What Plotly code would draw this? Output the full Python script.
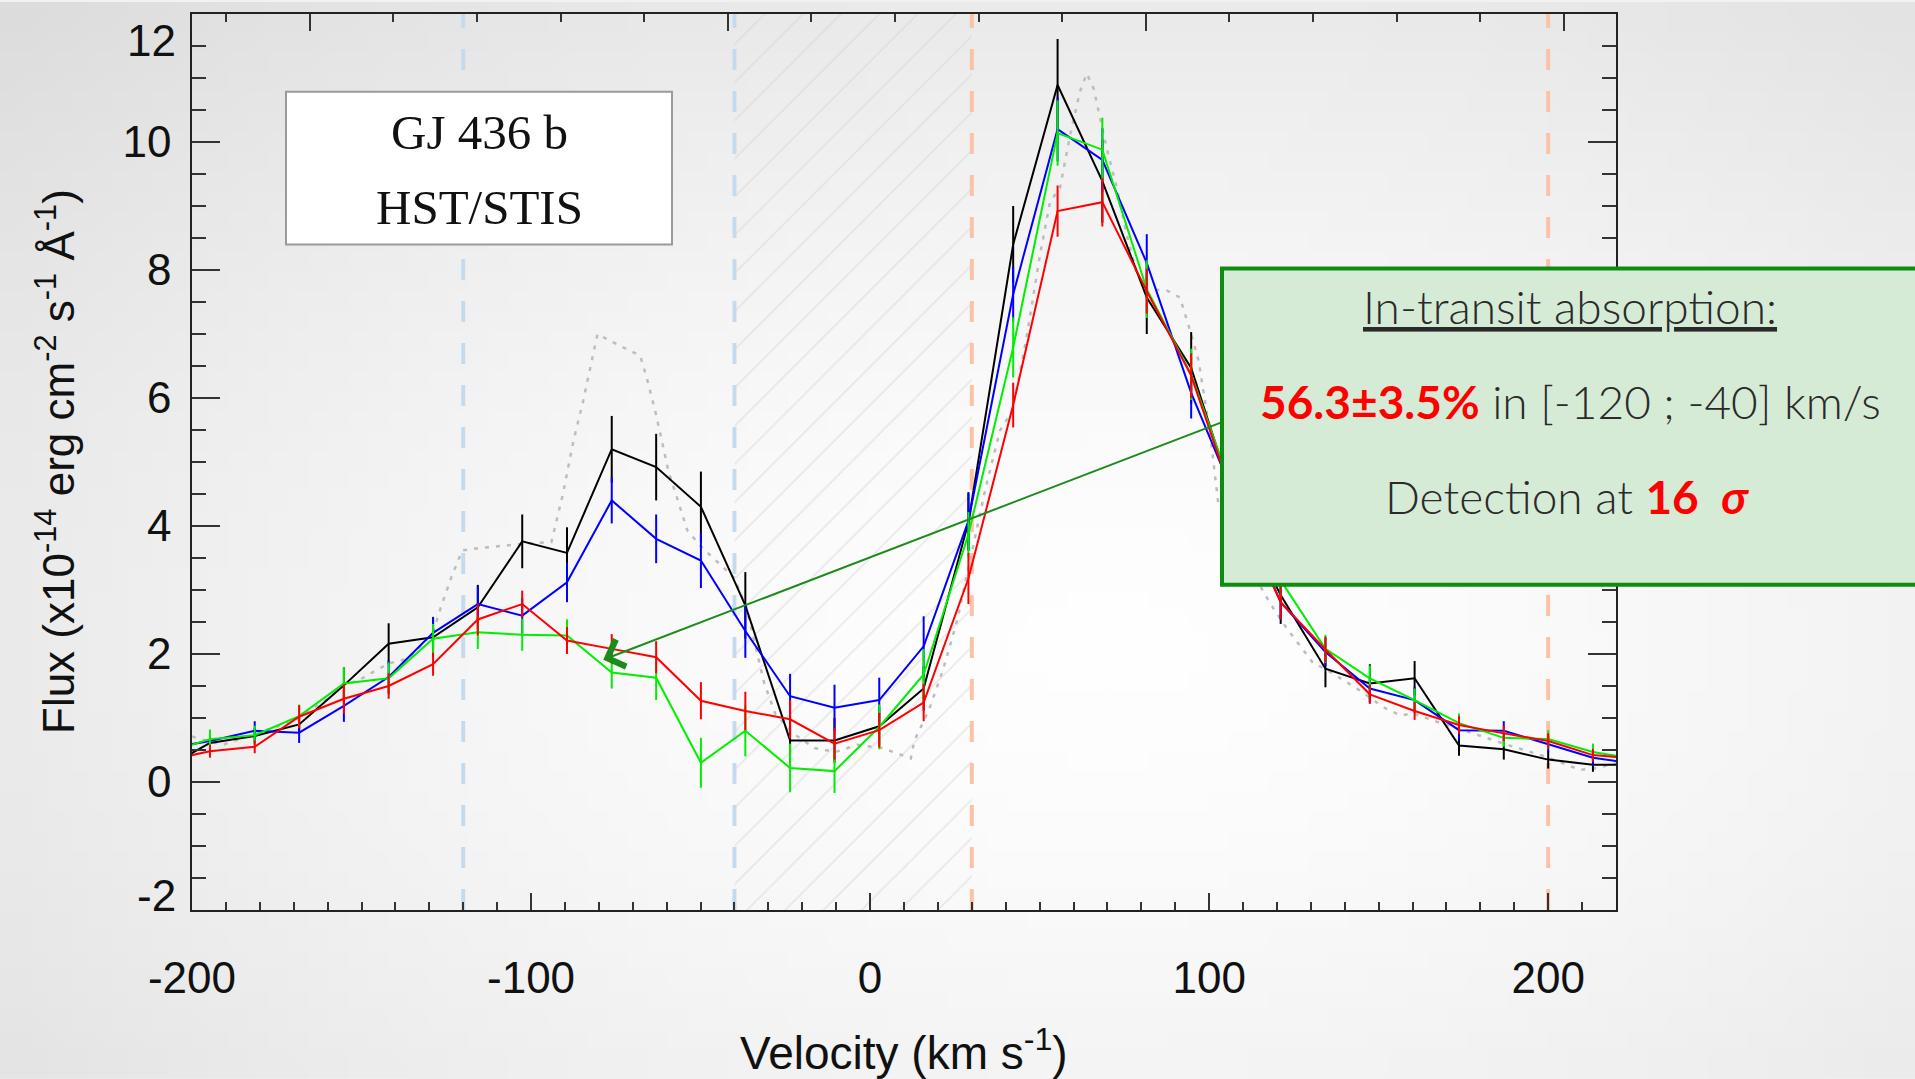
import base64
import math
import struct
import zlib

import plotly.graph_objects as go

# ---------------------------------------------------------------------------
# Lyman-alpha line profile of GJ 436 observed with HST/STIS
# ---------------------------------------------------------------------------
VELOCITY = [-207.9, -194.7, -181.5, -168.4, -155.2, -142.0, -128.9, -115.7,
            -102.6, -89.4, -76.2, -63.1, -49.9, -36.8, -23.6, -10.5, 2.7,
            15.8, 29.0, 42.2, 55.3, 68.5, 81.6, 94.7, 107.9, 121.1, 134.3,
            147.4, 160.6, 173.7, 186.9, 200.0, 213.2, 226.4]

FLUX_BLACK = [0.22, 0.61, 0.72, 0.90, 1.51, 2.16, 2.26, 2.73, 3.76, 3.58,
              5.20, 4.92, 4.30, 2.76, 0.65, 0.65, 0.87, 1.46, 4.06, 8.40,
              10.89, 9.39, 7.57, 6.47, 4.30, 2.92, 1.77, 1.54, 1.62, 0.57,
              0.51, 0.35, 0.27, 0.27]
ERR_BLACK = [0.10, 0.12, 0.12, 0.13, 0.28, 0.32, 0.30, 0.35, 0.42, 0.40,
             0.52, 0.52, 0.55, 0.52, 0.35, 0.35, 0.30, 0.35, 0.45, 0.60,
             0.72, 0.65, 0.57, 0.56, 0.50, 0.45, 0.29, 0.30, 0.27, 0.16,
             0.16, 0.14, 0.11, 0.11]

FLUX_BLUE = [0.52, 0.64, 0.80, 0.77, 1.19, 1.64, 2.33, 2.78, 2.60, 3.12,
             4.40, 3.80, 3.46, 2.36, 1.34, 1.16, 1.28, 2.12, 4.08, 7.62,
             10.20, 9.72, 8.11, 6.08, 4.40, 2.81, 2.03, 1.46, 1.28, 0.81,
             0.80, 0.59, 0.38, 0.28]
ERR_BLUE = [0.10, 0.10, 0.15, 0.16, 0.25, 0.26, 0.25, 0.27, 0.28, 0.31,
            0.36, 0.38, 0.43, 0.42, 0.35, 0.36, 0.35, 0.47, 0.45, 0.43,
            0.50, 0.50, 0.45, 0.40, 0.35, 0.27, 0.22, 0.20, 0.20, 0.15,
            0.15, 0.13, 0.12, 0.12]

FLUX_GREEN = [0.45, 0.67, 0.73, 1.03, 1.54, 1.62, 2.24, 2.34, 2.30, 2.29,
              1.71, 1.63, 0.30, 0.80, 0.22, 0.17, 0.86, 1.68, 3.87, 6.79,
              10.14, 9.88, 7.70, 6.37, 4.40, 3.15, 2.08, 1.62, 1.28, 0.92,
              0.69, 0.67, 0.47, 0.35]
ERR_GREEN = [0.15, 0.15, 0.15, 0.18, 0.25, 0.25, 0.23, 0.26, 0.25, 0.25,
             0.25, 0.35, 0.39, 0.40, 0.38, 0.34, 0.35, 0.40, 0.35, 0.47,
             0.51, 0.50, 0.45, 0.40, 0.35, 0.30, 0.22, 0.20, 0.18, 0.15,
             0.14, 0.14, 0.13, 0.13]

FLUX_RED = [0.33, 0.48, 0.55, 1.02, 1.30, 1.50, 1.84, 2.54, 2.78, 2.21,
            2.08, 1.95, 1.27, 1.11, 0.98, 0.60, 0.81, 1.24, 3.18, 5.89,
            8.92, 9.06, 7.67, 6.35, 4.30, 2.81, 2.07, 1.37, 1.11, 0.89,
            0.76, 0.64, 0.42, 0.36]
ERR_RED = [0.10, 0.10, 0.10, 0.18, 0.23, 0.20, 0.18, 0.25, 0.21, 0.21,
           0.23, 0.25, 0.29, 0.30, 0.30, 0.25, 0.27, 0.29, 0.40, 0.35,
           0.40, 0.38, 0.35, 0.35, 0.30, 0.27, 0.20, 0.15, 0.14, 0.14,
           0.12, 0.12, 0.10, 0.10]

# intrinsic profile (dotted)
MODEL_V = [-200.0, -191.0, -182.5, -170.0, -160.0, -155.3, -150.9, -142.1,
           -136.1, -129.0, -126.6, -123.5, -120.3, -116.1, -102.6, -94.0,
           -90.6, -87.5, -84.6, -82.1, -80.4, -76.2, -71.8, -67.8, -65.9,
           -63.4, -61.4, -59.5, -57.0, -53.9, -49.7, -43.4, -40.2, -36.5,
           -33.3, -31.2, -28.0, -22.7, -16.4, -10.1, -3.8, 3.6, 12.0, 13.1,
           17.3, 21.5, 25.7, 29.9, 34.1, 38.3, 42.0, 46.0, 50.0, 53.1, 56.0,
           59.0, 61.9, 63.9, 65.9, 67.4, 69.8, 72.8, 75.7, 78.7, 81.6, 87.5,
           91.4, 94.4, 96.9, 100.3, 102.7, 116.0, 119.0, 122.9, 125.9, 130.8,
           134.2, 144.5, 151.4, 156.3, 160.3, 167.2, 175.0, 186.8, 199.6,
           209.4, 213.4, 220.0]
MODEL_F = [0.71, 0.58, 0.73, 0.95, 1.30, 1.51, 1.59, 1.85, 1.93, 2.32, 2.73,
           3.20, 3.62, 3.65, 3.72, 3.75, 4.50, 5.33, 5.96, 6.58, 7.00, 6.88,
           6.76, 6.66, 6.32, 5.80, 5.33, 4.86, 4.45, 3.93, 3.67, 3.36, 3.20,
           2.73, 2.00, 1.54, 1.07, 0.76, 0.53, 0.47, 0.58, 0.53, 0.37, 0.65,
           1.12, 1.75, 2.53, 3.57, 4.60, 5.49, 5.80, 6.90, 8.20, 9.07, 9.28,
           10.11, 10.79, 11.07, 10.84, 10.48, 9.90, 9.28, 8.55, 7.93, 7.70,
           7.68, 7.57, 7.05, 6.58, 5.44, 4.35, 2.97, 2.71, 2.40, 2.19, 1.85,
           1.77, 1.43, 1.17, 1.04, 1.07, 0.94, 0.81, 0.60, 0.39, 0.19, 0.21,
           0.29]

# velocity ranges
BLUE_WING = [-120, -40]          # absorption band (dashed light blue)
RED_WING = [30, 200]             # reference band (dashed salmon)
ISM_CORE = [-40, 30]             # hatched, lost to ISM absorption

X_RANGE = [-200, 220]
Y_RANGE = [-2, 12]
X_TICKS = [-200, -100, 0, 100, 200]
X_TICK_TEXT = ["-200", "-100", "0", "100", "200"]
Y_TICKS = [0, 2, 4, 6, 8, 10]
Y_TICK_TEXT = ["0", "2", "4", "6", "8", "10"]
Y_END_LABELS = ["-2", "12"]      # placed just inside the frame

# arrow: from the result box to the absorbed blue wing
ARROW_FROM = (103.7, 5.62)
ARROW_TO = (-78.7, 1.91)

LYA_REST = 1215.6702   # Angstrom
C_KMS = 299792.458

# canvas geometry
W, H = 1915, 1079
M_L, M_R, M_T, M_B = 192, 299, 12, 169
PW, PH = W - M_L - M_R, H - M_T - M_B


def px_to_paper(px, py):
    return (px - M_L) / PW, (H - M_B - py) / PH


def soft_background(w=96, h=54):
    """Radial light-grey vignette encoded as a small PNG."""
    raw = bytearray()
    for j in range(h):
        raw.append(0)
        for i in range(w):
            dx = (i / (w - 1) - 0.58) / 0.58
            dy = (j / (h - 1) - 0.6) / 0.6
            d = math.sqrt((dx * dx + dy * dy) / 2.0)
            v = int(round(max(0, min(255, 254 - 34 * d ** 1.6))))
            raw += bytes((v, v, v))

    def chunk(tag, data):
        return (struct.pack(">I", len(data)) + tag + data +
                struct.pack(">I", zlib.crc32(tag + data) & 0xFFFFFFFF))

    png = (b"\x89PNG\r\n\x1a\n" +
           chunk(b"IHDR", struct.pack(">IIBBBBB", w, h, 8, 2, 0, 0, 0)) +
           chunk(b"IDAT", zlib.compress(bytes(raw), 9)) +
           chunk(b"IEND", b""))
    return "data:image/png;base64," + base64.b64encode(png).decode()


def to_wavelength(v):
    return LYA_REST * (1.0 + v / C_KMS)


def note(text, px, py, font, xanchor="center", **kw):
    x, y = px_to_paper(px, py)
    return dict(xref="paper", yref="paper", x=x, y=y, text=text,
                showarrow=False, xanchor=xanchor, yanchor="middle",
                font=font, **kw)


fig = go.Figure()

# hatched ISM core
fig.add_trace(go.Bar(
    x=[(ISM_CORE[0] + ISM_CORE[1]) / 2], y=[Y_RANGE[1] - Y_RANGE[0]],
    base=[Y_RANGE[0]], width=[ISM_CORE[1] - ISM_CORE[0]],
    marker=dict(color="rgba(0,0,0,0)", line=dict(width=0),
                pattern=dict(shape="/", fgcolor="#d4d4d4",
                             bgcolor="rgba(0,0,0,0)", size=27, solidity=0.06)),
    hoverinfo="skip", showlegend=False))

# intrinsic profile
fig.add_trace(go.Scatter(
    x=MODEL_V, y=MODEL_F, mode="lines",
    line=dict(color="#bdbdbd", width=2.5, dash="4px,7px"),
    hoverinfo="skip", showlegend=False))

for flux, err, color in [(FLUX_BLACK, ERR_BLACK, "#000000"),
                         (FLUX_BLUE, ERR_BLUE, "#0000ff"),
                         (FLUX_GREEN, ERR_GREEN, "#00ee00"),
                         (FLUX_RED, ERR_RED, "#ff0000")]:
    fig.add_trace(go.Scatter(
        x=VELOCITY, y=flux, mode="lines",
        line=dict(color=color, width=2),
        error_y=dict(type="data", array=err, visible=True, width=0,
                     thickness=2, color=color),
        showlegend=False))

# invisible anchor for the wavelength axis on top
fig.add_trace(go.Scatter(
    x=[to_wavelength(X_RANGE[0]), to_wavelength(X_RANGE[1])], y=[None, None],
    xaxis="x2", yaxis="y", mode="lines", hoverinfo="skip", showlegend=False))

shapes = []
for v, col in [(BLUE_WING[0], "#c4dbef"), (BLUE_WING[1], "#c4dbef"),
               (RED_WING[0], "#fbc2a8"), (RED_WING[1], "#fbc2a8")]:
    shapes.append(dict(type="line", xref="x", yref="paper", x0=v, x1=v,
                       y0=0, y1=1, layer="below",
                       line=dict(color=col, width=4, dash="21px,21px")))

# title box (upper left)
bx0, by1 = px_to_paper(286, 90)
bx1, by0 = px_to_paper(672, 243)
shapes.append(dict(type="rect", xref="paper", yref="paper",
                   x0=bx0, x1=bx1, y0=by0, y1=by1, layer="above",
                   fillcolor="white", line=dict(color="#9a9a9a", width=2)))

# result box (right)
gx0, gy1 = px_to_paper(1222, 267)
gx1, gy0 = px_to_paper(1918, 584)
shapes.append(dict(type="rect", xref="paper", yref="paper",
                   x0=gx0, x1=gx1, y0=gy0, y1=gy1, layer="above",
                   fillcolor="#d6ebd6", line=dict(color="#0d8c0d", width=4)))

annotations = []
serif = dict(family="Liberation Serif", size=49, color="#111111")
annotations.append(note("GJ 436 b", 479, 131, serif))
annotations.append(note("HST/STIS", 479, 206, serif))

gothic = dict(family="Lato", size=46, color="#2a2a2a", weight=300)
annotations.append(note("<u>In-transit absorption:</u>", 1570, 305, gothic))
annotations.append(note(
    "<b><span style='color:#ff0000'>56.3±3.5%</span></b> in [-120 ; -40] km/s",
    1570, 400, gothic))
annotations.append(note(
    "Detection at <b><span style='color:#ff0000'>16\u00a0\u00a0<i>σ</i></span></b>",
    1567, 496, gothic))

annotations.append(dict(
    x=ARROW_TO[0], y=ARROW_TO[1], ax=ARROW_FROM[0], ay=ARROW_FROM[1],
    xref="x", yref="y", axref="x", ayref="y", text="", showarrow=True,
    arrowhead=4, arrowsize=2.8, arrowwidth=2, arrowcolor="#1a8c1a"))

sans = "Liberation Sans"
tick_font = dict(family=sans, size=44, color="#111111")
# end labels of the flux axis, nudged inside the frame
annotations.append(note(Y_END_LABELS[0], 178, 895, tick_font, xanchor="right"))
annotations.append(note(Y_END_LABELS[1], 178, 39, tick_font, xanchor="right"))

annotations.append(note("Velocity (km s<sup>-1</sup>)", 904, 1050,
                        dict(family=sans, size=46, color="#111111")))
annotations.append(note(
    "Flux (x10<sup>-14</sup> erg cm<sup>-2</sup> s<sup>-1</sup> Å<sup>-1</sup>)",
    55, 461, dict(family=sans, size=44, color="#111111"), textangle=-90))

axis_common = dict(showgrid=False, zeroline=False, ticks="inside",
                   linecolor="#222222", linewidth=1.5, tickcolor="#333333",
                   tickwidth=1.5, tickfont=tick_font)

fig.update_layout(
    width=W, height=H,
    margin=dict(l=M_L, r=M_R, t=M_T, b=M_B, pad=0),
    paper_bgcolor="#f2f2f2", plot_bgcolor="rgba(0,0,0,0)",
    showlegend=False, barmode="overlay",
    images=[dict(source=soft_background(), xref="paper", yref="paper",
                 x=-M_L / PW, y=1 + M_T / PH, sizex=W / PW, sizey=H / PH,
                 xanchor="left", yanchor="top", sizing="stretch",
                 layer="below")],
    xaxis=dict(range=X_RANGE, tickvals=X_TICKS, ticktext=X_TICK_TEXT,
               ticklen=17, mirror=True, ticklabelstandoff=28,
               minor=dict(dtick=10, tick0=0, ticks="inside", ticklen=8,
                          tickcolor="#333333", tickwidth=1.5),
               **axis_common),
    xaxis2=dict(overlaying="x", side="top", anchor="y",
                range=[to_wavelength(X_RANGE[0]), to_wavelength(X_RANGE[1])],
                tick0=1215.0, dtick=0.5, ticklen=17, showticklabels=False,
                showline=False,
                minor=dict(dtick=0.1, ticks="inside", ticklen=8,
                           tickcolor="#333333", tickwidth=1.5),
                showgrid=False, zeroline=False, ticks="inside",
                tickcolor="#333333", tickwidth=1.5),
    yaxis=dict(range=Y_RANGE, tickvals=Y_TICKS, ticktext=Y_TICK_TEXT,
               ticklen=28, mirror="ticks", ticklabelstandoff=10,
               minor=dict(dtick=0.5, tick0=0, ticks="inside", ticklen=14,
                          tickcolor="#333333", tickwidth=1.5),
               **axis_common),
    shapes=shapes,
    annotations=annotations,
)

fig.write_html("out.html")
